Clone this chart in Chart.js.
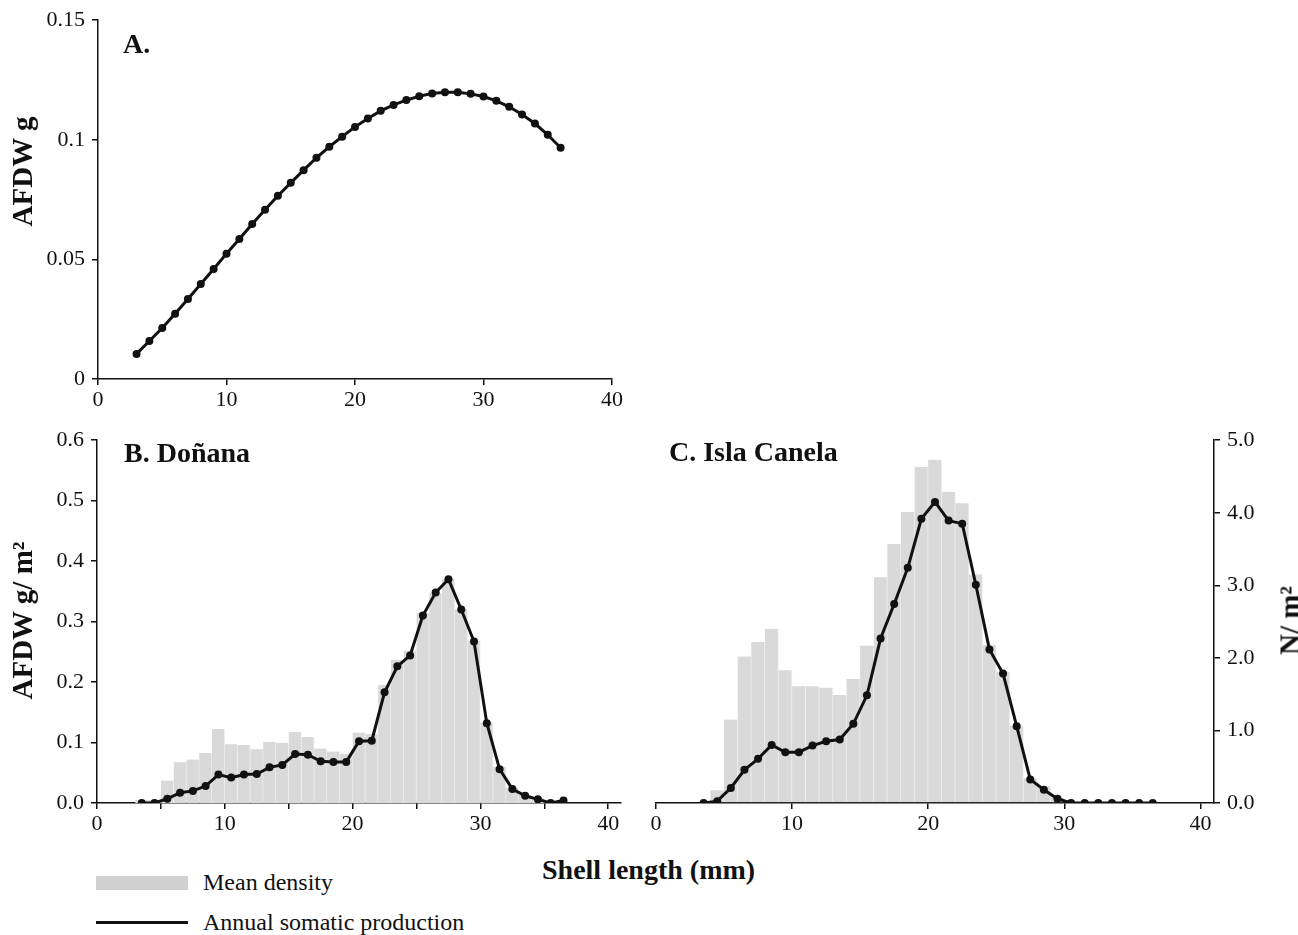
<!DOCTYPE html>
<html>
<head>
<meta charset="utf-8">
<script src="https://cdn.jsdelivr.net/npm/chart.js@4.4.1/dist/chart.umd.min.js"></script>
<style>
  body { margin: 0; background: #fff; width: 1298px; height: 935px; position: relative; overflow: hidden; font-family: "Liberation Serif", serif; color: #111; }
  canvas { position: absolute; }
  .txt { position: absolute; white-space: nowrap; line-height: 1; }
  .panel { font-weight: bold; font-size: 28px; }
  .ytitle { font-weight: bold; font-size: 29px; text-align: center; transform: rotate(-90deg); }
</style>
</head>
<body>
<canvas id="chartA" width="640" height="410" style="left:0px;top:0px"></canvas>
<canvas id="chartB" width="640" height="410" style="left:0px;top:420px"></canvas>
<canvas id="chartC" width="658" height="410" style="left:640px;top:420px"></canvas>

<div class="txt panel" style="left:123px;top:30px">A.</div>
<div class="txt panel" style="left:124px;top:439px">B. Doñana</div>
<div class="txt panel" style="left:669px;top:438px">C. Isla Canela</div>
<div class="txt" style="left:542px;top:856px;font-weight:bold;font-size:28px">Shell length (mm)</div>
<div class="txt ytitle" style="left:-58px;top:157px;width:160px">AFDW g</div>
<div class="txt ytitle" style="left:-68px;top:606px;width:180px">AFDW g/ m²</div>
<div class="txt ytitle" style="left:1250px;top:606px;width:80px">N/ m²</div>

<div class="txt" style="left:96px;top:876px;width:92px;height:14px;background:#d0d0d0"></div>
<div class="txt" style="left:203px;top:870px;font-size:24px">Mean density</div>
<div class="txt" style="left:96px;top:921px;width:92px;height:3px;background:#111"></div>
<div class="txt" style="left:203px;top:910px;font-size:24px">Annual somatic production</div>

<script>
// A. individual AFDW per shell length
const lenA = [3, 4, 5, 6, 7, 8, 9, 10, 11, 12, 13, 14, 15, 16, 17, 18, 19, 20,
              21, 22, 23, 24, 25, 26, 27, 28, 29, 30, 31, 32, 33, 34, 35, 36]
const afdwA = [0.0105, 0.0159, 0.0213, 0.0273, 0.0334, 0.0397, 0.0460, 0.0524, 0.0585, 0.0648,
               0.0708, 0.0766, 0.0820, 0.0873, 0.0925, 0.0971, 0.1013, 0.1054, 0.1089, 0.1121,
               0.1146, 0.1166, 0.1182, 0.1194, 0.1199, 0.1199, 0.1192, 0.1181, 0.1163, 0.1138,
               0.1106, 0.1068, 0.1021, 0.0967]

// size classes (mid points, mm) for B and C
const binMid = [3.5, 4.5, 5.5, 6.5, 7.5, 8.5, 9.5, 10.5, 11.5, 12.5, 13.5, 14.5, 15.5, 16.5, 17.5,
                18.5, 19.5, 20.5, 21.5, 22.5, 23.5, 24.5, 25.5, 26.5, 27.5, 28.5, 29.5, 30.5,
                31.5, 32.5, 33.5, 34.5, 35.5, 36.5]

// B. Doñana
const densB = [0.04, 0.04, 0.31, 0.56, 0.60, 0.69, 1.02, 0.81, 0.80, 0.74, 0.84, 0.83, 0.98, 0.91,
               0.75, 0.71, 0.68, 0.97, 0.95, 1.63, 1.97, 2.10, 2.62, 2.89, 3.09, 2.67, 2.24, 1.11,
               0.50, 0.21, 0.11, 0.07, 0.02, 0]
const prodB = [0, 0, 0.007, 0.017, 0.020, 0.028, 0.047, 0.042, 0.047, 0.048, 0.059, 0.063, 0.081,
               0.080, 0.069, 0.068, 0.068, 0.102, 0.103, 0.183, 0.226, 0.244, 0.310, 0.348, 0.370,
               0.320, 0.267, 0.132, 0.056, 0.023, 0.012, 0.006, 0, 0.004]

// C. Isla Canela
const densC = [0, 0.175, 1.15, 2.02, 2.22, 2.40, 1.83, 1.61, 1.61, 1.59, 1.49, 1.71, 2.17, 3.11,
               3.57, 4.01, 4.63, 4.73, 4.29, 4.13, 3.15, 2.18, 1.81, 1.06, 0.34, 0.23, 0.07,
               0, 0, 0, 0, 0, 0, 0]
const prodC = [0, 0.003, 0.025, 0.055, 0.073, 0.096, 0.084, 0.084, 0.095, 0.102, 0.105, 0.131,
               0.178, 0.272, 0.329, 0.389, 0.470, 0.498, 0.467, 0.462, 0.361, 0.254, 0.214, 0.127,
               0.039, 0.022, 0.007, 0, 0, 0, 0, 0, 0, 0]

// tick labels
const xTicks = [0, 10, 20, 30, 40]
const xTicksB = [0, 5, 10, 15, 20, 25, 30, 35, 40]
const yTicksA = [0, 0.05, 0.1, 0.15]
const yTicksAfdw = [0, 0.1, 0.2, 0.3, 0.4, 0.5, 0.6]
const yTicksN = [0, 1, 2, 3, 4, 5]

const ink = '#111'
const tickFont = { family: 'Liberation Serif', size: 22 }
const barGrey = '#d9d9d9'

let pairs = (xs, ys) => xs.map((x, i) => ({ x: x, y: ys[i] }))

let xScale = (max, ticks, fmt, h) => ({
    type: 'linear', min: 0, max: max, offset: false,
    afterFit: s => { s.height = h },
    afterBuildTicks: s => { s.ticks = ticks.map(v => ({ value: v })) },
    grid: { drawOnChartArea: false, offset: false, tickLength: 6, color: ink, lineWidth: 1.5 },
    border: { color: ink, width: 1.5 },
    ticks: { font: tickFont, color: ink, padding: 2, maxRotation: 0, autoSkip: false, callback: fmt }
})

let yScale = (o) => ({
    position: o.pos || 'left', min: 0, max: o.max, display: o.show !== false,
    afterFit: s => { s.width = o.w },
    afterBuildTicks: s => { s.ticks = o.ticks.map(v => ({ value: v })) },
    grid: { drawOnChartArea: false, tickLength: 6, color: ink, lineWidth: 1.5 },
    border: { color: ink, width: 1.5 },
    ticks: { font: tickFont, color: ink, padding: 7, callback: o.fmt }
})

let lineSet = (xs, ys, axis) => ({
    type: 'line', data: pairs(xs, ys), yAxisID: axis, order: 0,
    borderColor: ink, borderWidth: 3, tension: 0,
    pointRadius: 4, pointBackgroundColor: ink, pointBorderWidth: 0
})

let barSet = (ys) => ({
    type: 'bar', data: pairs(binMid, ys), yAxisID: 'y1', order: 1,
    backgroundColor: barGrey, borderColor: '#f0f0f0',
    borderWidth: { top: 0, right: 1, bottom: 0, left: 0 },
    barPercentage: 1, categoryPercentage: 1
})

const common = {
    responsive: false, animation: false, events: [],
    plugins: { legend: { display: false }, tooltip: { enabled: false } }
}

// A
new Chart(document.getElementById('chartA'), {
    type: 'line',
    data: { datasets: [lineSet(lenA, afdwA, 'y')] },
    options: Object.assign({}, common, {
        layout: { padding: { left: 0, right: 28, top: 19, bottom: 0 } },
        scales: {
            x: xScale(40, xTicks, v => String(v), 31),
            y: yScale({ max: 0.15, ticks: yTicksA, w: 98, fmt: v => String(+v.toFixed(2)) })
        }
    })
})

// B
new Chart(document.getElementById('chartB'), {
    type: 'bar',
    data: { datasets: [lineSet(binMid, prodB, 'y'), barSet(densB)] },
    options: Object.assign({}, common, {
        layout: { padding: { left: 0, right: 19, top: 20, bottom: 0 } },
        scales: {
            x: xScale(41, xTicksB, v => (v % 10 === 0 ? String(v) : ''), 27),
            y: yScale({ max: 0.6, ticks: yTicksAfdw, w: 97, fmt: v => v.toFixed(1) }),
            y1: yScale({ max: 5, ticks: yTicksN, w: 0, show: false, pos: 'right' })
        }
    })
})

// C
new Chart(document.getElementById('chartC'), {
    type: 'bar',
    data: { datasets: [lineSet(binMid, prodC, 'y'), barSet(densC)] },
    options: Object.assign({}, common, {
        layout: { padding: { left: 16, right: 0, top: 20, bottom: 0 } },
        scales: {
            x: xScale(41, xTicks, v => String(v), 27),
            y: yScale({ max: 0.6, ticks: yTicksAfdw, w: 0, show: false }),
            y1: yScale({ max: 5, ticks: yTicksN, w: 84, pos: 'right', fmt: v => v.toFixed(1) })
        }
    })
})
</script>
</body>
</html>
